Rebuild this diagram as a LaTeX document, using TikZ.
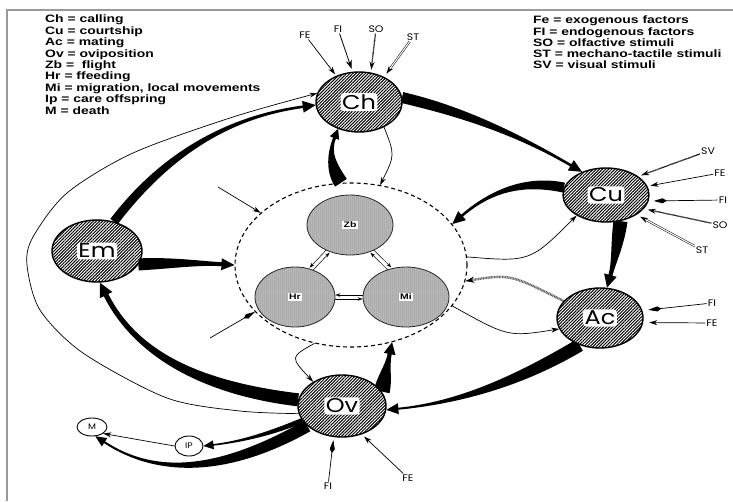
\documentclass[tikz,border=0pt]{standalone}
\usepackage{fontspec}
\usetikzlibrary{shapes.geometric,arrows.meta,calc,patterns.meta}
\newfontfamily\legfont{Liberation Sans}[FakeStretch=1.3]
\newfontfamily\bigfont{Poppins}[FakeStretch=1.2]
\newfontfamily\labfont{Poppins}[FakeStretch=1.15]
\pgfdeclarelayer{bg}
\pgfsetlayers{bg,main}
% #1 start, #2 control, #3 tip, #4 half width start, #5 half width end, #6 head half width, #7 head length, #8 options
\newcommand\wedgearrow[8]{%
 \path (#1) coordinate (tA) (#2) coordinate (tC) (#3) coordinate (tT);
 \path ($(tT)!#7!(tC)$) coordinate (tB);
 \path ($(tA)!2/3!(tC)$) coordinate (tca) ($(tB)!2/3!(tC)$) coordinate (tcb);
 \path ($(tA)!#4!90:(tC)$) coordinate (tLa) ($(tA)!#4!-90:(tC)$) coordinate (tRa);
 \path ($(tB)!#5!-90:(tC)$) coordinate (tLd) ($(tB)!#5!90:(tC)$) coordinate (tRd);
 \path ($(tB)!#6!-90:(tC)$) coordinate (tHL) ($(tB)!#6!90:(tC)$) coordinate (tHR);
 \path ($(tca)+(tLa)-(tA)$) coordinate (tLb) ($(tca)+(tRa)-(tA)$) coordinate (tRb);
 \path ($(tcb)+(tLd)-(tB)$) coordinate (tLc) ($(tcb)+(tRd)-(tB)$) coordinate (tRc);
 \fill[#8] (tLa) .. controls (tLb) and (tLc) .. (tLd) -- (tHL) -- (tT) -- (tHR) -- (tRd) .. controls (tRc) and (tRb) .. (tRa) -- cycle;
}
\begin{document}
\begin{tikzpicture}[x=1pt,y=-1pt,
 hatch/.style={ellipse,draw=black,line width=1.4pt,inner sep=0pt,preaction={fill=white},pattern={Lines[angle=45,distance=2.2pt,line width=1pt]},pattern color=black},
 bigl/.style={fill=white,rounded corners=3pt,inner sep=1.5pt,font=\bigfont\fontsize{20}{20}\selectfont},
 stip/.style={ellipse,draw=black!85,line width=0.8pt,inner sep=0pt,preaction={fill=black!25},pattern={Dots[distance=2pt,radius=0.5pt]},pattern color=black!60},
 smalll/.style={fill=white,inner sep=1.5pt,font=\legfont\bfseries\fontsize{8}{8}\selectfont},
 inlab/.style={inner sep=1pt,font=\labfont\fontsize{9.5}{9.5}\selectfont},
 thinarr/.style={line width=0.7pt,-{Stealth[length=8pt,width=5pt]}},
 kitearr/.style={line width=0.7pt,-{Kite[length=13pt,width=5pt,inset=4pt]}},
 stiparr/.style={line width=1.3pt,dash pattern=on 0.6pt off 0.5pt,-{Stealth[length=8pt,width=5pt]}},
 dblarr/.style={double,double distance=1.1pt,line width=0.5pt,-{Stealth[length=8pt,width=5pt]}},
 tinyarr/.style={line width=0.5pt,-{Stealth[length=5pt,width=3.5pt]}},
 stthick/.style={line width=2.4pt,draw=black!60,dash pattern=on 1pt off 0.6pt,-{Stealth[length=9pt,width=6pt,black]}},
]
\useasboundingbox (0,0) rectangle (733,501);
\draw[black!40,line width=1.5pt] (7,501) -- (7,10) -- (733,10);

% legends
\node[anchor=north west,align=left,inner sep=0pt,font=\legfont\bfseries\fontsize{10.7}{11.4}\selectfont] (legL) at (45,15)
 {Ch = calling\\Cu = courtship\\Ac = mating\\Ov = oviposition\\Zb = \ flight\\Hr = ffeeding\\Mi = migration, local movements\\Ip = care offspring\\M = death};
\node[anchor=north west,align=left,inner sep=0pt,font=\legfont\bfseries\fontsize{10.7}{11.1}\selectfont] (legR) at (533,16)
 {Fe = exogenous factors\\FI = endogenous factors\\SO = olfactive stimuli\\ST = mechano-tactile stimuli\\SV = visual stimuli};

% main nodes
\node[hatch,minimum width=86pt,minimum height=60pt,label={[bigl]center:Ch}] (Ch) at (359,102) {};
\node[hatch,minimum width=86pt,minimum height=54pt,label={[bigl]center:Cu}] (Cu) at (606,195) {};
\node[hatch,minimum width=86pt,minimum height=60pt,label={[bigl]center:Ac}] (Ac) at (600,318) {};
\node[hatch,minimum width=88pt,minimum height=62pt,label={[bigl]center:Ov}] (Ov) at (342,406) {};
\node[hatch,minimum width=90pt,minimum height=62pt,label={[bigl]center:Em}] (Em) at (97,251) {};
\node[ellipse,draw,line width=1.1pt,dash pattern=on 4pt off 3pt,minimum width=232pt,minimum height=164pt,inner sep=0pt] (Cen) at (351,265) {};
\node[stip,minimum width=86pt,minimum height=60pt,label={[smalll]center:Zb}] (Zb) at (350,225) {};
\node[stip,minimum width=80pt,minimum height=60pt,label={[smalll]center:Hr}] (Hr) at (295,297) {};
\node[stip,minimum width=86pt,minimum height=60pt,label={[smalll]center:Mi}] (Mi) at (406,297) {};
\node[ellipse,draw,line width=0.9pt,minimum width=30pt,minimum height=18pt,inner sep=0pt,font=\labfont\fontsize{8}{8}\selectfont] (M) at (92,427) {M};
\node[ellipse,draw,line width=0.9pt,minimum width=28pt,minimum height=20pt,inner sep=0pt,font=\labfont\fontsize{8}{8}\selectfont] (IP) at (189,446) {IP};

% input labels
\node[inlab] (chFE) at (305,35) {FE};
\node[inlab] (chFI) at (338,29) {FI};
\node[inlab] (chSO) at (376,29) {SO};
\node[inlab] (chST) at (413,37) {ST};
\node[inlab] (cuSV) at (708,151) {SV};
\node[inlab] (cuFE) at (720,173) {FE};
\node[inlab] (cuFI) at (723,200) {FI};
\node[inlab] (cuSO) at (720,225) {SO};
\node[inlab] (cuST) at (702,250) {ST};
\node[inlab] (acFI) at (712,303) {FI};
\node[inlab] (acFE) at (712,323) {FE};
\node[inlab] (ovFI) at (328,486) {FI};
\node[inlab] (ovFE) at (408,478) {FE};
\coordinate (inA) at (218,187);
\coordinate (inB) at (210,338);

\begin{pgfonlayer}{bg}
% thick wedge arrows
\wedgearrow{Ch.6}{490,118}{Cu.136}{5.5pt}{1.3pt}{6pt}{13pt}{}
\wedgearrow{Em.60}{190,122}{Ch.184}{4.5pt}{1.3pt}{6pt}{13pt}{}
\wedgearrow{Cen.97}{326,160}{Ch.232}{7pt}{1.5pt}{5pt}{10pt}{}
\wedgearrow{Cu.170}{508,176}{Cen.22}{5pt}{1.3pt}{6pt}{13pt}{}
\wedgearrow{Cu.299}{616,255}{Ac.77}{7pt}{2pt}{6.5pt}{13pt}{}
\wedgearrow{Ac.233}{487,400}{Ov.-5}{6.5pt}{1pt}{5.5pt}{12pt}{}
\wedgearrow{Ov.20}{386,372}{Cen.-62}{8pt}{2pt}{6pt}{12pt}{}
\wedgearrow{Ov.172}{150,382}{Em.275}{6.5pt}{2.5pt}{7pt}{14pt}{}
\wedgearrow{Em.-18}{185,262}{Cen.180}{6pt}{2pt}{6pt}{13pt}{}
\wedgearrow{Ov.200}{255,440}{IP.east}{2.5pt}{0.8pt}{4.5pt}{10pt}{}
\wedgearrow{Ov.210}{185,495}{M.-70}{6pt}{1pt}{5pt}{11pt}{}

% thin connectors
\draw[thinarr] plot[smooth] coordinates {(Ov.190) (240,411) (167,398) (83,353) (40,310) (27,265) (33,237) (67,193) (133,153) (233,117) (Ch.168)};
\draw[thinarr] (Ch.315) .. controls (395,155) .. (Cen.70);
\draw[thinarr] (Cen.4) .. controls (530,262) .. (Cu.215);
\draw[thinarr] (Cen.-22) .. controls (508,337) .. (Ac.195);
\draw[thinarr] (Cen.245) .. controls (290,357) .. (Ov.140);
\draw[stthick] (Ac.155) .. controls (510,274) .. (Cen.-8);
\draw[thinarr] (IP.west) .. controls (140,440) .. (M.-30);
\draw[thinarr] (inA) -- (Cen.150);
\draw[kitearr] (inB) -- (Cen.206);

% inner arrows
\draw[tinyarr] ([xshift=-1.5pt,yshift=1.5pt]Zb.230) -- ([xshift=-1.5pt,yshift=1.5pt]Hr.60);
\draw[tinyarr] ([xshift=1.5pt,yshift=-1.5pt]Hr.60) -- ([xshift=1.5pt,yshift=-1.5pt]Zb.230);
\draw[tinyarr] ([xshift=1.5pt,yshift=1.5pt]Zb.310) -- ([xshift=1.5pt,yshift=1.5pt]Mi.120);
\draw[tinyarr] ([xshift=-1.5pt,yshift=-1.5pt]Mi.120) -- ([xshift=-1.5pt,yshift=-1.5pt]Zb.310);
\draw[tinyarr] ([yshift=2pt]Mi.west) -- ([yshift=2pt]Hr.east);
\draw[tinyarr] ([yshift=-2pt]Hr.east) -- ([yshift=-2pt]Mi.west);

% inputs
\draw[thinarr,shorten >=2pt] (chFE) -- (Ch.131);
\draw[line width=0.8pt,-{Stealth[length=9pt,width=6pt]},shorten >=3pt] (chFI) -- (Ch.102);
\draw[stiparr,shorten >=3pt] (chSO) -- (Ch.68);
\draw[dblarr,shorten >=4pt] (chST) -- (Ch.45);
\draw[stiparr,shorten >=3pt] (cuSV) -- (Cu.30);
\draw[thinarr,shorten >=3pt] (cuFE) -- (Cu.12);
\draw[kitearr,shorten >=5pt] (cuFI) -- (Cu.-8);
\draw[stiparr,shorten >=4pt] (cuSO) -- (Cu.-20);
\draw[dblarr,shorten >=4pt] (cuST) -- (Cu.-33);
\draw[kitearr,shorten >=6pt] (acFI) -- (Ac.10);
\draw[thinarr,shorten >=6pt] (acFE) -- (Ac.-6);
\draw[kitearr,shorten >=3pt] (ovFI) -- (Ov.255);
\draw[thinarr,shorten >=3pt] (ovFE) -- (Ov.-55);
\end{pgfonlayer}
\end{tikzpicture}
\end{document}
